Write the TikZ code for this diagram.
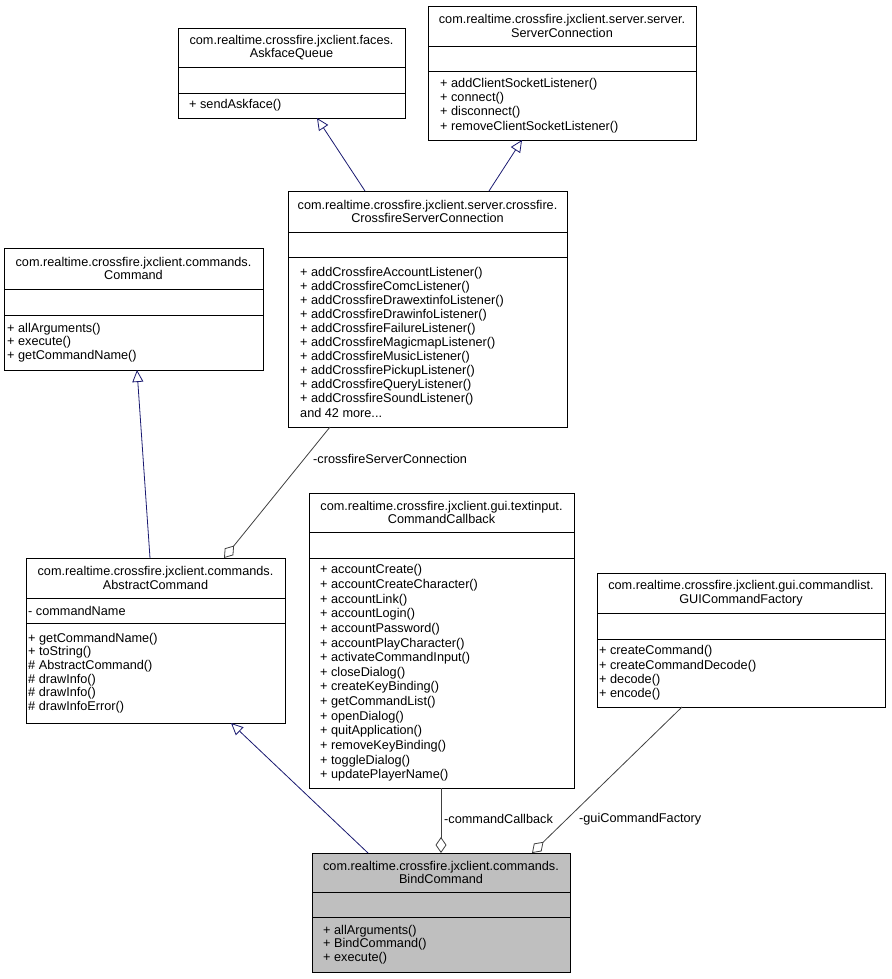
\documentclass[tikz,border=0pt]{standalone}
\usepackage{fontspec}
\setmainfont{Liberation Sans}
\usetikzlibrary{arrows.meta,calc}
\definecolor{inh}{HTML}{191970}
\definecolor{agg}{HTML}{404040}
\definecolor{hl}{HTML}{BFBFBF}
\tikzset{
  sec/.style={draw=black, line width=0.9pt, inner sep=0pt, outer sep=0pt, anchor=north west, align=center,
              font=\fontsize{12.7}{13.6}\selectfont},
  mth/.style={inner sep=0pt, anchor=west, align=left, font=\fontsize{12.7}{14.3}\selectfont},
  inherit/.style={draw=inh, line width=0.8pt, -{Triangle[open, length=12pt, width=11pt, fill=white]}},
  aggreg/.style={draw=agg, line width=0.8pt, -{Diamond[open, length=16pt, width=11pt, fill=white]}},
  elabel/.style={inner sep=0pt, anchor=west, font=\fontsize{12.7}{14}\selectfont},
}
\begin{document}
\begin{tikzpicture}[x=1pt, y=-1pt]
\useasboundingbox (0,0) rectangle (891,979);

% AskfaceQueue
\node[sec, minimum width=227, minimum height=39] (aq) at (178,28) {com.realtime.crossfire.jxclient.faces.\\AskfaceQueue};
\node[sec, minimum width=227, minimum height=26] (aq-a) at (aq.south west) {};
\node[sec, minimum width=227, minimum height=25] (aq-m) at (aq-a.south west) {};
\node[mth] at ($(aq-m.west)+(11,0)$) {+ sendAskface()};

% ServerConnection
\node[sec, minimum width=268, minimum height=40] (sc) at (428,6) {com.realtime.crossfire.jxclient.server.server.\\ServerConnection};
\node[sec, minimum width=268, minimum height=25] (sc-a) at (sc.south west) {};
\node[sec, minimum width=268, minimum height=69] (sc-m) at (sc-a.south west) {};
\node[mth] at ($(sc-m.west)+(12,0)$) {+ addClientSocketListener()\\+ connect()\\+ disconnect()\\+ removeClientSocketListener()};

% CrossfireServerConnection
\node[sec, minimum width=279, minimum height=41] (csc) at (288,191) {com.realtime.crossfire.jxclient.server.crossfire.\\CrossfireServerConnection};
\node[sec, minimum width=279, minimum height=25] (csc-a) at (csc.south west) {};
\node[sec, minimum width=279, minimum height=170] (csc-m) at (csc-a.south west) {};
\node[mth, font=\fontsize{12.7}{14.1}\selectfont] at ($(csc-m.west)+(12,0)$) {+ addCrossfireAccountListener()\\+ addCrossfireComcListener()\\+ addCrossfireDrawextinfoListener()\\+ addCrossfireDrawinfoListener()\\+ addCrossfireFailureListener()\\+ addCrossfireMagicmapListener()\\+ addCrossfireMusicListener()\\+ addCrossfirePickupListener()\\+ addCrossfireQueryListener()\\+ addCrossfireSoundListener()\\and 42 more...};

% Command
\node[sec, minimum width=259, minimum height=41] (cmd) at (4,248) {com.realtime.crossfire.jxclient.commands.\\Command};
\node[sec, minimum width=259, minimum height=26] (cmd-a) at (cmd.south west) {};
\node[sec, minimum width=259, minimum height=55] (cmd-m) at (cmd-a.south west) {};
\node[mth, font=\fontsize{12.7}{13.5}\selectfont] at ($(cmd-m.west)+(3,0)$) {+ allArguments()\\+ execute()\\+ getCommandName()};

% AbstractCommand
\node[sec, minimum width=259, minimum height=40] (ac) at (26,558) {com.realtime.crossfire.jxclient.commands.\\AbstractCommand};
\node[sec, minimum width=259, minimum height=25] (ac-a) at (ac.south west) {};
\node[mth] at ($(ac-a.west)+(2,0)$) {- commandName};
\node[sec, minimum width=259, minimum height=100] (ac-m) at (ac-a.south west) {};
\node[mth, font=\fontsize{12.7}{13.7}\selectfont] at ($(ac-m.west)+(2,0)$) {+ getCommandName()\\+ toString()\\\# AbstractCommand()\\\# drawInfo()\\\# drawInfo()\\\# drawInfoError()};

% CommandCallback
\node[sec, minimum width=265, minimum height=39] (cc) at (309,493) {com.realtime.crossfire.jxclient.gui.textinput.\\CommandCallback};
\node[sec, minimum width=265, minimum height=26] (cc-a) at (cc.south west) {};
\node[sec, minimum width=265, minimum height=230] (cc-m) at (cc-a.south west) {};
\node[mth, font=\fontsize{12.7}{14.64}\selectfont] at ($(cc-m.west)+(11,0)$) {+ accountCreate()\\+ accountCreateCharacter()\\+ accountLink()\\+ accountLogin()\\+ accountPassword()\\+ accountPlayCharacter()\\+ activateCommandInput()\\+ closeDialog()\\+ createKeyBinding()\\+ getCommandList()\\+ openDialog()\\+ quitApplication()\\+ removeKeyBinding()\\+ toggleDialog()\\+ updatePlayerName()};

% GUICommandFactory
\node[sec, minimum width=288, minimum height=40] (gcf) at (597,573) {com.realtime.crossfire.jxclient.gui.commandlist.\\GUICommandFactory};
\node[sec, minimum width=288, minimum height=26] (gcf-a) at (gcf.south west) {};
\node[sec, minimum width=288, minimum height=68] (gcf-m) at (gcf-a.south west) {};
\node[mth] at ($(gcf-m.west)+(2,0)$) {+ createCommand()\\+ createCommandDecode()\\+ decode()\\+ encode()};

% BindCommand
\node[sec, fill=hl, minimum width=258, minimum height=39] (bc) at (312,853) {com.realtime.crossfire.jxclient.commands.\\BindCommand};
\node[sec, fill=hl, minimum width=258, minimum height=25] (bc-a) at (bc.south west) {};
\node[sec, fill=hl, minimum width=258, minimum height=55] (bc-m) at (bc-a.south west) {};
\node[mth, font=\fontsize{12.7}{13.5}\selectfont] at ($(bc-m.west)+(11,0)$) {+ allArguments()\\+ BindCommand()\\+ execute()};

% Inheritance
\draw[inherit] ($(csc.north west)+(77,0)$) -- ($(aq-m.south west)+(139,0)$);
\draw[inherit] ($(csc.north west)+(201,0)$) -- ($(sc-m.south west)+(94,0)$);
\draw[inherit] ($(ac.north west)+(124,0)$) -- ($(cmd-m.south west)+(133,0)$);
\draw[inherit] ($(bc.north west)+(56,0)$) -- ($(ac-m.south west)+(205,0)$);

% Aggregation
\draw[aggreg] ($(csc-m.south west)+(42,0)$) -- ($(ac.north west)+(198,0)$);
\node[elabel] (l1) at (313,459) {-crossfireServerConnection};
\draw[aggreg] ($(cc-m.south west)+(132,0)$) -- ($(bc.north west)+(129,0)$);
\node[elabel] (l2) at (444,819) {-commandCallback};
\draw[aggreg] ($(gcf-m.south west)+(85,0)$) -- ($(bc.north west)+(220,0)$);
\node[elabel] (l3) at (579,819) {-guiCommandFactory};
\end{tikzpicture}
\end{document}
